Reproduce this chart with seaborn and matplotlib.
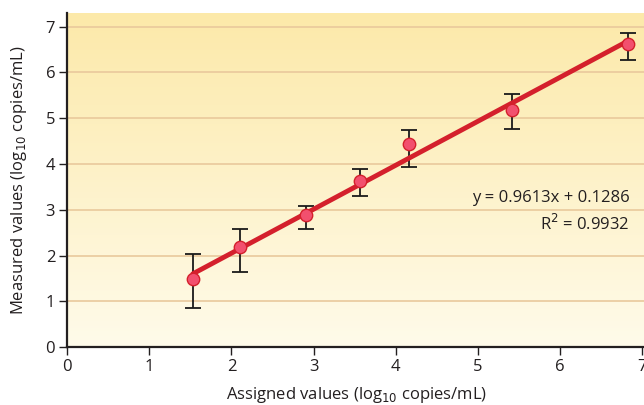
import numpy as np
import matplotlib.pyplot as plt
import seaborn as sns
from matplotlib.colors import LinearSegmentedColormap

assigned = [1.53, 2.11, 2.91, 3.57, 4.16, 5.41, 6.83]
measured = [1.49, 2.19, 2.89, 3.62, 4.44, 5.18, 6.63]
err_low = [0.85, 1.65, 2.59, 3.30, 3.93, 4.77, 6.28]
err_high = [2.03, 2.57, 3.08, 3.89, 4.74, 5.53, 6.87]
slope = 0.9613
intercept = 0.1286
r2 = 0.9932
ticks = [0, 1, 2, 3, 4, 5, 6, 7]

sns.set_style("white")
plt.rcParams["font.family"] = ["Open Sans", "DejaVu Sans"]

fig = plt.figure(figsize=(6.44, 4.05), dpi=100)
ax = fig.add_axes([0.104, 0.143, 0.90, 0.825])
ax.set_xlim(0, 7.05)
ax.set_ylim(0, 7.3)

# background gradient
cmap = LinearSegmentedColormap.from_list("bg", ["#fffbea", "#fce9a9"])
grad = np.linspace(0, 1, 256).reshape(-1, 1)
ax.imshow(grad, cmap=cmap, aspect="auto", origin="lower",
          extent=[0, 7.05, 0, 7.3], zorder=0)

for t in ticks[1:]:
    ax.axhline(t, color="#e9c99c", lw=1.2, zorder=1)

yerr = [np.array(measured) - np.array(err_low), np.array(err_high) - np.array(measured)]
ax.errorbar(assigned, measured, yerr=yerr, fmt="none", ecolor="#1a1a1a",
            elinewidth=1.3, capsize=5.5, capthick=1.3, zorder=2)

xs = np.array([assigned[0], assigned[-1]])
sns.lineplot(x=xs, y=slope * xs + intercept, color="#d4202c", lw=3.5, ax=ax, zorder=3)
sns.scatterplot(x=assigned, y=measured, s=80, color="#f2506e",
                edgecolor="#d4202c", linewidth=1, ax=ax, zorder=4)

ax.text(6.84, 3.26, f"y = {slope}x + {intercept}", ha="right", va="center", fontsize=12, color="#231f20")
ax.text(6.84, 2.69, f"R$^2$ = {r2}", ha="right", va="center", fontsize=12, color="#231f20")

ax.set_xticks(ticks)
ax.set_yticks(ticks)
ax.tick_params(axis="both", direction="out", length=5.5, width=1, color="#231f20",
               labelsize=12, labelcolor="#231f20", bottom=True, left=True, pad=3)
for s in ["top", "right"]:
    ax.spines[s].set_visible(False)
for s in ["left", "bottom"]:
    ax.spines[s].set_color("#231f20")
    ax.spines[s].set_linewidth(1.6)

ax.set_xlabel("Assigned values (log$_{10}$ copies/mL)", fontsize=12, color="#231f20", labelpad=7)
ax.set_ylabel("Measured values (log$_{10}$ copies/mL)", fontsize=12, color="#231f20", labelpad=12)

fig.savefig("out.png", dpi=100)
